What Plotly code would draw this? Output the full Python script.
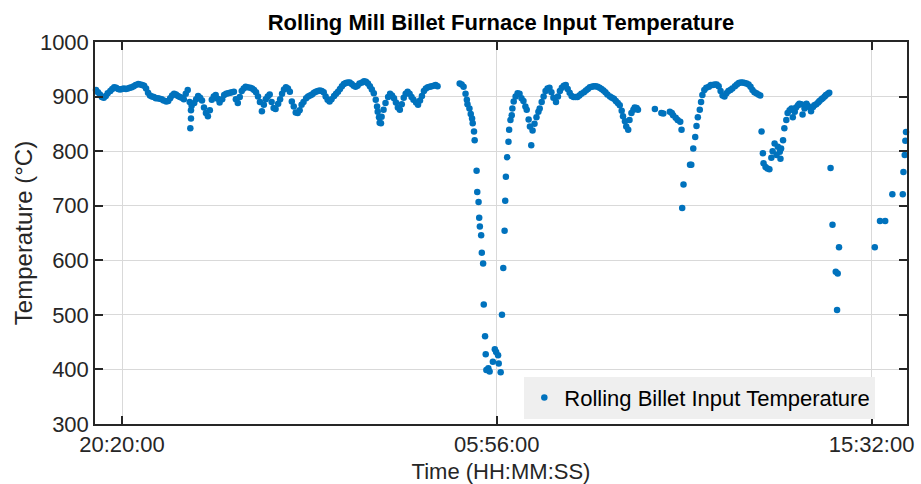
import pandas as pd
import plotly.graph_objects as go

# Logging starts at 19:40 on day one; times are minutes after that start.
START = pd.Timestamp("2023-03-14 19:40:00")

# Steady rolling period, evening through early morning
t_run1 = [0, 3, 6, 9, 12, 15, 18, 22, 25, 28, 31, 34, 37, 40, 43, 46, 49, 52, 55, 58,
          61, 65, 68, 71, 74, 77, 80, 83, 86, 89, 92, 95, 98, 101, 104, 108, 111, 114, 117, 120,
          123, 126, 129, 132, 135, 138, 141, 144, 146, 147, 151, 154, 157, 160, 163, 166, 169, 172, 175, 178,
          181, 184, 187, 190, 194, 197, 200, 203, 206, 209, 212, 215, 218, 221, 224, 227, 230, 233, 237, 240,
          243, 246, 249, 252, 255, 258, 261, 264, 267, 270, 273, 276, 280, 283, 286, 289, 292, 295, 298, 301,
          304, 307, 310, 313, 316, 319, 323, 326, 329, 332, 335, 338, 341, 344, 347, 350, 353, 356, 359, 362,
          366, 369, 372, 375, 378, 381, 384, 387, 390, 393, 396, 399, 402, 405, 409, 412, 415, 418, 421, 424,
          427, 430, 432, 433, 435, 436, 438, 439, 442, 445, 449, 452, 455, 458, 461, 464, 467, 470, 473, 476,
          479, 482, 485, 488, 492, 495, 498, 501, 504, 507, 510, 513, 516, 519, 522, 525,
          145, 146]
temp_run1 = [912, 908, 904, 899, 898, 901, 906, 910, 914, 917, 916, 914, 913, 914, 915, 914, 915, 916, 917, 919,
             921, 923, 922, 921, 920, 915, 907, 902, 900, 899, 897, 897, 896, 895, 893, 891, 892, 897, 902, 905,
             904, 901, 899, 898, 895, 905, 912, 890, 875, 883, 888, 895, 901, 898, 893, 880, 870, 864, 875, 894,
             900, 903, 896, 889, 895, 903, 905, 906, 907, 908, 909, 895, 888, 899, 910, 915, 918, 917, 916, 915,
             912, 908, 900, 890, 873, 885, 895, 900, 904, 890, 879, 877, 887, 895, 905, 913, 917, 915, 909, 891,
             882, 871, 870, 875, 885, 890, 897, 900, 902, 904, 907, 909, 910, 911, 910, 908, 900, 894, 891, 895,
             901, 905, 909, 914, 919, 923, 925, 926, 926, 923, 920, 918, 920, 924, 926, 928, 927, 924, 919, 913,
             906, 894, 882, 872, 862, 852, 851, 863, 876, 888, 899, 905, 902, 897, 889, 880, 876, 886, 898, 905,
             909, 905, 899, 894, 889, 885, 893, 901, 910, 915, 917, 918, 919, 920, 921, 919,
             842, 860]

# Furnace stop around 05:56 and the restart that follows
t_run2 = [559, 562, 565, 568, 570, 571, 574, 576, 578, 579, 581, 582, 585, 586, 588, 589, 590, 592, 593, 595,
          596, 598, 599, 600, 603, 605, 610, 613, 615, 618, 619, 622, 624, 626, 628, 629, 630, 632, 634, 635,
          637, 639, 640, 642, 645, 648, 651, 654, 657, 660, 662, 665, 667, 669, 671, 674, 677, 680, 682, 685,
          688, 691, 694, 697, 700, 703, 707, 710, 713, 716, 719, 722, 725, 728, 731, 734, 737, 740, 743, 746,
          750, 753, 756, 759, 762, 765, 768, 771, 774, 777, 780, 783, 786, 790, 793, 796, 799, 802, 805, 808,
          810, 813, 815, 818, 820, 823, 826, 828, 831, 833]
temp_run2 = [924, 922, 918, 905, 894, 886, 878, 868, 860, 851, 836, 820, 764, 725, 707, 678, 662, 646, 614, 594,
             519, 461, 428, 399, 402, 396, 414, 437, 432, 426, 411, 395, 500, 586, 654, 709, 753, 789, 817, 839,
             857, 866, 878, 891, 900, 906, 905, 897, 892, 882, 876, 858, 845, 811, 838, 850, 862, 872, 878, 890,
             900, 910, 915, 916, 908, 898, 890, 900, 910, 916, 920, 921, 914, 907, 901, 899, 899, 899, 902, 905,
             908, 911, 914, 917, 918, 919, 919, 918, 916, 914, 911, 908, 904, 900, 898, 896, 892, 888, 884, 874,
             864, 855, 845, 839, 857, 870, 876, 880, 879, 876]

# Short run late morning
t_run3 = [859, 869, 872, 882, 885, 887, 891, 894, 898, 900]
temp_run3 = [877, 870, 869, 872, 870, 866, 861, 857, 854, 839]

# Dip and recovery towards midday
t_run4 = [901, 903, 913, 915, 918, 921, 923, 925, 928, 930, 932, 935, 938, 942, 945, 948, 951, 954, 957, 960,
          963, 966, 969, 972, 975, 978, 982, 985, 988, 991, 994, 997, 1000, 1003, 1006, 1009, 1012, 1015, 1018, 1021]
temp_run4 = [696, 739, 775, 775, 805, 826, 846, 862, 876, 890, 903, 912, 916, 918, 921, 921, 922, 922, 919, 910,
             902, 900, 906, 910, 912, 915, 919, 922, 925, 926, 926, 925, 924, 922, 918, 912, 908, 906, 904, 902]

# Early afternoon run
t_run5 = [1023, 1025, 1026, 1029, 1032, 1035, 1038, 1040, 1043, 1046, 1048, 1051, 1052, 1053, 1056, 1058, 1061, 1063,
          1066, 1069, 1071, 1074, 1076, 1079, 1081, 1084, 1086, 1089, 1092, 1094, 1097, 1099, 1102, 1104, 1107, 1110,
          1112, 1115, 1117, 1120, 1122, 1125, 1127]
temp_run5 = [836, 796, 778, 771, 768, 767, 788, 800, 814, 793, 808, 799, 786, 805, 820, 842, 857, 870,
             875, 878, 862, 872, 880, 884, 887, 886, 867, 878, 887, 883, 880, 873, 881, 884, 886, 889,
             892, 895, 897, 900, 903, 905, 907]

# Sparse readings at the end of the log
t_run6 = [1129, 1132, 1137, 1139, 1140, 1142, 1197, 1205, 1213, 1224, 1240, 1241, 1243, 1244, 1245]
temp_run6 = [769, 665, 579, 509, 576, 624, 624, 672, 672, 721, 721, 762, 793, 819, 835]

TICK_LABELS = ["20:20:00", "05:56:00", "15:32:00"]
X_LIMITS_MIN = [-1.5, 1246.5]
Y_TICKS = [300, 400, 500, 600, 700, 800, 900, 1000]

minutes = t_run1 + t_run2 + t_run3 + t_run4 + t_run5 + t_run6
temps = temp_run1 + temp_run2 + temp_run3 + temp_run4 + temp_run5 + temp_run6
times = START + pd.to_timedelta(minutes, unit="min")

# Tick times: first label on the start day, the others on the next day
tick_times = []
for i, lab in enumerate(TICK_LABELS):
    day = START.normalize() + pd.Timedelta(days=0 if i == 0 else 1)
    tick_times.append(day + pd.to_timedelta(lab))

x_range = [START + pd.Timedelta(minutes=X_LIMITS_MIN[0]),
           START + pd.Timedelta(minutes=X_LIMITS_MIN[1])]

FONT = "Liberation Sans, Arial, Helvetica, sans-serif"
INK = "#262626"
GRID = "#d9d9d9"
BLUE = "#0072BD"

fig = go.Figure()
fig.add_trace(go.Scatter(
    x=times, y=temps, mode="markers",
    name="Rolling Billet Input Temperature",
    marker=dict(color=BLUE, size=6.5, line=dict(width=0)),
    cliponaxis=False,
))

fig.update_layout(
    width=921, height=484,
    margin=dict(l=95, r=14, t=42, b=60, autoexpand=False),
    paper_bgcolor="white", plot_bgcolor="white",
    font=dict(family=FONT, color=INK, size=22),
    title=dict(text="<b>Rolling Mill Billet Furnace Input Temperature</b>",
               x=0.5, xref="paper", xanchor="center",
               y=1 - 22 / 484, yref="container", yanchor="middle",
               font=dict(family=FONT, size=22, color="black")),
    showlegend=True,
    legend=dict(x=0.961, y=0.014, xanchor="right", yanchor="bottom",
                bgcolor="#efefef", borderwidth=0, itemwidth=30,
                font=dict(family=FONT, size=22, color="black")),
)

fig.update_xaxes(
    range=x_range, tickvals=tick_times, tickformat="%H:%M:%S",
    showgrid=True, gridcolor=GRID, gridwidth=1,
    showline=True, linecolor=INK, linewidth=1.5, mirror="ticks",
    ticks="inside", ticklen=8, tickwidth=1.5, tickcolor=INK,
    tickfont=dict(size=22, color=INK), zeroline=False, automargin=False,
    title=dict(text="Time (HH:MM:SS)", font=dict(size=22, color=INK), standoff=11),
)
fig.update_yaxes(
    range=[300, 1000], tickvals=Y_TICKS,
    showgrid=True, gridcolor=GRID, gridwidth=1,
    showline=True, linecolor=INK, linewidth=1.5, mirror="ticks",
    ticks="inside", ticklen=8, tickwidth=1.5, tickcolor=INK,
    tickfont=dict(size=22, color=INK), zeroline=False, automargin=False,
    title=dict(text="Temperature (°C)", font=dict(size=24, color=INK), standoff=0),
)

fig.write_html("out.html")
